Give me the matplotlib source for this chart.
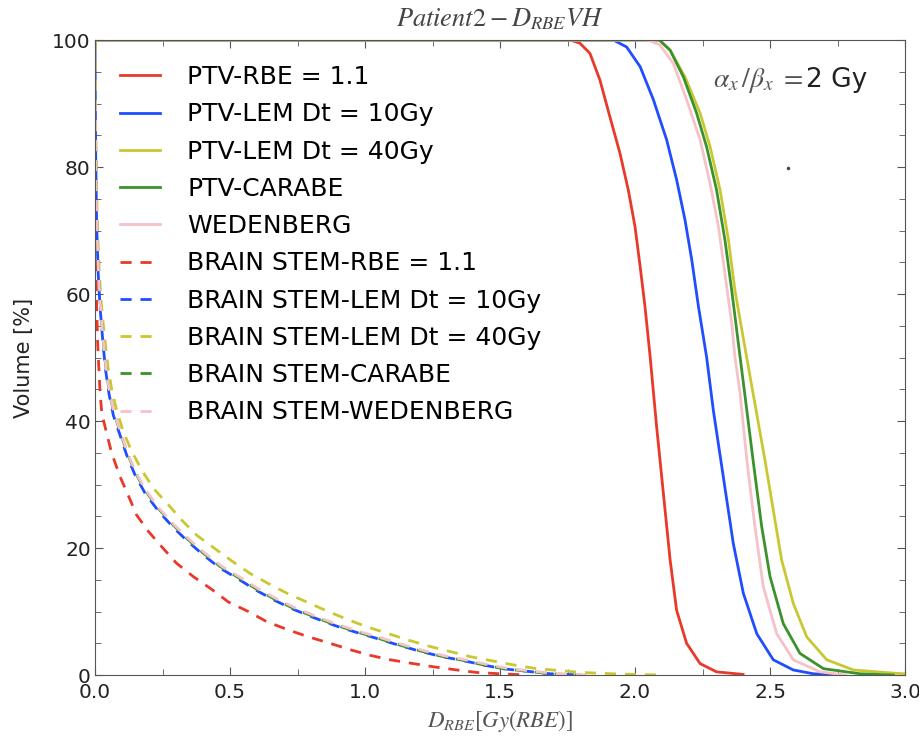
import numpy as np
import matplotlib
matplotlib.use('Agg')
import matplotlib.pyplot as plt
from matplotlib.ticker import MultipleLocator

plt.rcParams['mathtext.fontset'] = 'stix'
plt.rcParams['font.family'] = 'DejaVu Sans'

# PTV curves (dose [Gy(RBE)], volume [%])
ptv_rbe_x = [0.0, 1.76, 1.796, 1.833, 1.870, 1.907, 1.944, 1.975, 2.0, 2.019, 2.037, 2.056, 2.080, 2.105,
             2.130, 2.154, 2.191, 2.241, 2.302, 2.40]
ptv_rbe_y = [100, 100, 99.5, 97.9, 93.7, 87.9, 82.2, 76.4, 70.6, 64.3, 58.0, 50.1, 39.1, 28.6,
             18.1, 10.2, 5.0, 1.8, 0.5, 0.1]

ptv_lem10_x = [0.0, 1.92, 1.969, 2.019, 2.068, 2.117, 2.154, 2.185, 2.210, 2.235, 2.265, 2.290, 2.327,
               2.364, 2.401, 2.451, 2.512, 2.586, 2.66, 2.75]
ptv_lem10_y = [100, 100, 98.9, 95.8, 90.6, 84.3, 78.0, 71.7, 65.4, 58.0, 50.1, 41.7, 31.2,
               20.7, 12.9, 6.5, 2.4, 0.8, 0.2, 0.0]

ptv_lem40_x = [0.0, 2.09, 2.130, 2.185, 2.241, 2.278, 2.315, 2.346, 2.370, 2.402, 2.437, 2.481,
               2.512, 2.543, 2.586, 2.636, 2.710, 2.809, 2.957, 3.0]
ptv_lem40_y = [100, 100, 98.4, 94.2, 88.5, 83.2, 76.4, 68.5, 60.6, 52.8, 44.4, 33.9,
               26.0, 18.1, 11.3, 6.0, 2.4, 0.8, 0.3, 0.2]

ptv_carabe_x = [0.0, 2.09, 2.130, 2.179, 2.228, 2.265, 2.302, 2.333, 2.358, 2.381, 2.406, 2.437,
                2.469, 2.50, 2.549, 2.611, 2.698, 2.833, 2.957]
ptv_carabe_y = [100, 100, 98.4, 94.2, 88.5, 83.2, 76.4, 68.5, 60.6, 52.8, 44.4, 33.9,
                23.4, 15.5, 8.1, 3.4, 1.0, 0.2, 0.0]

ptv_wed_x = [0.0, 2.05, 2.093, 2.142, 2.191, 2.241, 2.278, 2.309, 2.333, 2.358, 2.370, 2.389, 2.414,
             2.444, 2.475, 2.525, 2.586, 2.685, 2.78]
ptv_wed_y = [100, 100, 99.2, 96.3, 90.6, 84.3, 77.4, 70.6, 63.2, 55.4, 50.1, 44.4, 33.9,
             23.4, 13.9, 6.5, 2.4, 0.5, 0.0]

# brain stem curves
bs_rbe_x = [0.0, 0.001, 0.003, 0.006, 0.010, 0.018, 0.025, 0.043, 0.062, 0.093, 0.123, 0.154, 0.198, 0.247,
            0.302, 0.364, 0.432, 0.494, 0.568, 0.636, 0.710, 0.784, 0.870, 0.944, 1.019, 1.093, 1.179,
            1.253, 1.340, 1.414, 1.50, 1.60]
bs_rbe_y = [100, 80, 65, 58, 52, 45, 41.2, 38.1, 34.9, 31.2, 28.3, 25.2, 22.6, 20.2,
            17.6, 15.5, 13.5, 11.5, 10.0, 8.4, 7.2, 6.1, 5.0, 4.0, 3.1, 2.4, 1.8,
            1.3, 0.8, 0.4, 0.2, 0.0]

bs_mid_x = [0.0, 0.002, 0.006, 0.012, 0.019, 0.025, 0.031, 0.040, 0.052, 0.068, 0.093, 0.117, 0.148, 0.185,
            0.235, 0.290, 0.340, 0.401, 0.463, 0.525, 0.599, 0.667, 0.735, 0.809, 0.889, 0.969, 1.04,
            1.13, 1.204, 1.278, 1.364, 1.438, 1.512, 1.60, 1.685, 1.80]
bs_mid_y = [100, 85, 72, 64, 58.6, 55.4, 52.3, 48.5, 44.9, 41.5, 38.3, 35.2, 32.0, 29.1,
            26.2, 23.6, 21.5, 19.2, 17.1, 15.5, 13.5, 11.9, 10.5, 9.2, 7.9, 6.8, 5.9,
            4.7, 3.8, 3.0, 2.3, 1.6, 1.0, 0.6, 0.2, 0.0]

bs_lem10_x = bs_mid_x
bs_lem10_y = [v * 0.985 for v in bs_mid_y]
bs_carabe_x = bs_mid_x
bs_carabe_y = bs_mid_y
bs_wed_x = [v * 1.015 for v in bs_mid_x]
bs_wed_y = bs_mid_y

bs_lem40_x = [0.0, 0.003, 0.008, 0.015, 0.023, 0.030, 0.038, 0.048, 0.062, 0.080, 0.105, 0.136, 0.173, 0.216,
              0.272, 0.321, 0.377, 0.444, 0.512, 0.574, 0.642, 0.710, 0.784, 0.858, 0.932, 1.006, 1.08,
              1.16, 1.241, 1.315, 1.389, 1.463, 1.549, 1.636, 1.722, 1.80, 1.95, 2.10]
bs_lem40_y = [100, 85, 72, 64, 58.6, 55.4, 52.3, 48.5, 44.9, 41.7, 38.3, 35.2, 32.3, 29.4,
              26.8, 24.4, 22.0, 19.9, 17.8, 16.0, 14.4, 12.9, 11.5, 10.1, 8.8, 7.6, 6.6,
              5.5, 4.5, 3.7, 2.9, 2.3, 1.6, 1.0, 0.7, 0.4, 0.15, 0.0]

# stray dot in the original figure
dot_x = [2.568]
dot_y = [79.8]

c_red = '#e8392a'
c_blue = '#1f4dff'
c_yel = '#c9c832'
c_green = '#3b922c'
c_pink = '#f5c2c9'

fig = plt.figure(figsize=(9.19, 7.44), dpi=100)
ax = fig.add_axes([0.1034, 0.0927, 0.8814, 0.8535])

lw = 2.0
ax.plot(ptv_rbe_x, ptv_rbe_y, color=c_red, lw=lw, label='PTV-RBE = 1.1')
ax.plot(ptv_lem10_x, ptv_lem10_y, color=c_blue, lw=lw, label='PTV-LEM Dt = 10Gy')
ax.plot(ptv_lem40_x, ptv_lem40_y, color=c_yel, lw=lw, label='PTV-LEM Dt = 40Gy')
ax.plot(ptv_carabe_x, ptv_carabe_y, color=c_green, lw=lw, label='PTV-CARABE')
ax.plot(ptv_wed_x, ptv_wed_y, color=c_pink, lw=lw, label='WEDENBERG')

d = (4.0, 3.2)
ax.plot(bs_rbe_x, bs_rbe_y, color=c_red, lw=lw, dashes=d, label='BRAIN STEM-RBE = 1.1')
ax.plot(bs_lem10_x, bs_lem10_y, color=c_blue, lw=lw, dashes=d, label='BRAIN STEM-LEM Dt = 10Gy')
ax.plot(bs_lem40_x, bs_lem40_y, color=c_yel, lw=lw, dashes=d, label='BRAIN STEM-LEM Dt = 40Gy')
ax.plot(bs_carabe_x, bs_carabe_y, color=c_green, lw=lw, dashes=d, label='BRAIN STEM-CARABE')
ax.plot(bs_wed_x, bs_wed_y, color=c_pink, lw=lw, dashes=d, label='BRAIN STEM-WEDENBERG')

ax.plot(dot_x, dot_y, 'o', color='#444444', ms=1.5)

ax.set_xlim(0, 3.0)
ax.set_ylim(0, 100)
ax.xaxis.set_major_locator(MultipleLocator(0.5))
ax.xaxis.set_minor_locator(MultipleLocator(0.25))
ax.yaxis.set_major_locator(MultipleLocator(20))
ax.yaxis.set_minor_locator(MultipleLocator(5))
ax.tick_params(which='both', direction='in', top=True, right=True, colors='#555555',
               labelcolor='#222222', labelsize=14.5)
ax.tick_params(which='major', length=6)
ax.tick_params(which='minor', length=4)
ax.tick_params(axis='x', pad=6)
ax.tick_params(axis='y', pad=3)
for s in ax.spines.values():
    s.set_color('#555555')

ax.set_title(r'$Patient2-D_{RBE}VH$', fontsize=19, color='#444444', pad=10)
ax.set_xlabel(r'$D_{RBE}[Gy(RBE)]$', fontsize=16.5, color='#555555', labelpad=4)
ax.set_ylabel('Volume [%]', fontsize=15, color='#222222', labelpad=13)

t1 = ax.text(2.289, 93.7, r'$\alpha_x\,/\beta_x\ =$', fontsize=20, color='#555555', va='center')
ax.annotate('2 Gy', xy=(1, 0.5), xycoords=t1, xytext=(2, 0), textcoords='offset points',
            fontsize=19, color='#222222', va='center')

ax.legend(loc='upper left', frameon=False, fontsize=18, handlelength=1.6,
          handletextpad=1.08, labelspacing=0.53, borderaxespad=0.6, borderpad=0.4)

fig.savefig('out.png', dpi=100)
